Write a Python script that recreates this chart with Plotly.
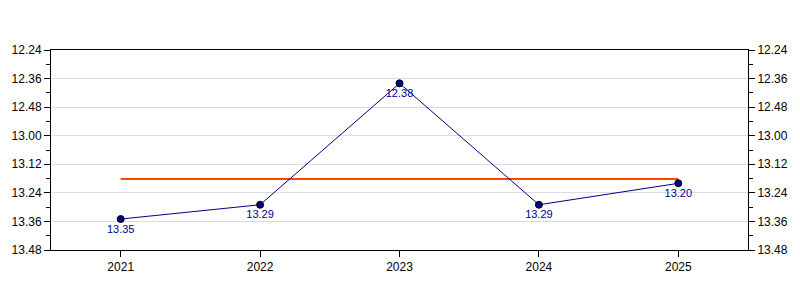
import plotly.graph_objects as go

years = [2021, 2022, 2023, 2024, 2025]
times = ["13.35", "13.29", "12.38", "13.29", "13.20"]  # minutes.seconds
tick_labels = ["12.24", "12.36", "12.48", "13.00", "13.12", "13.24", "13.36", "13.48"]
minor_labels = ["12.30", "12.42", "12.54", "13.06", "13.18", "13.30", "13.42"]


def to_sec(s):
    m, sec = s.split(".")
    return int(m) * 60 + int(sec)


vals = [to_sec(t) for t in times]
tickvals = [to_sec(t) for t in tick_labels]
minorvals = [to_sec(t) for t in minor_labels]
mean_val = sum(vals) / len(vals)

fig = go.Figure()
fig.add_trace(go.Scatter(
    x=[years[0], years[-1]], y=[mean_val, mean_val], mode="lines",
    line=dict(color="#FF4500", width=2), hoverinfo="skip", showlegend=False))
fig.add_trace(go.Scatter(
    x=years, y=vals, mode="lines+markers+text", text=times,
    textposition="bottom center",
    textfont=dict(color="#00008B", size=11, family="Liberation Sans, Arial"),
    line=dict(color="#00008B", width=1),
    marker=dict(color="#00008B", size=7, line=dict(color="black", width=1)),
    showlegend=False))
fig.add_trace(go.Scatter(x=[years[0]], y=[vals[0]], yaxis="y2", mode="markers",
                         marker=dict(opacity=0), hoverinfo="skip", showlegend=False))

yax = dict(
    range=[tickvals[-1], tickvals[0]], tickvals=tickvals, ticktext=tick_labels,
    ticks="outside", ticklen=6, tickcolor="black", showline=True, linecolor="black",
    linewidth=1, showgrid=True, gridcolor="#dcdcdc", gridwidth=1, zeroline=False,
    tickfont=dict(size=12, color="black", family="Liberation Sans, Arial"),
    minor=dict(tickvals=minorvals, ticks="outside", ticklen=4, tickcolor="black", showgrid=False),
)
fig.update_layout(
    width=800, height=300, margin=dict(l=50, r=50, t=50, b=50),
    plot_bgcolor="white", paper_bgcolor="white",
    xaxis=dict(range=[2020.5, 2025.5], tickvals=years, ticks="outside", ticklen=6,
               tickcolor="black", showline=True, linecolor="black", mirror=True,
               showgrid=False, zeroline=False,
               tickfont=dict(size=12, color="black", family="Liberation Sans, Arial")),
    yaxis=dict(**yax, mirror=True),
    yaxis2=dict(**yax, overlaying="y", side="right", matches="y"),
)
fig.write_html("out.html")
